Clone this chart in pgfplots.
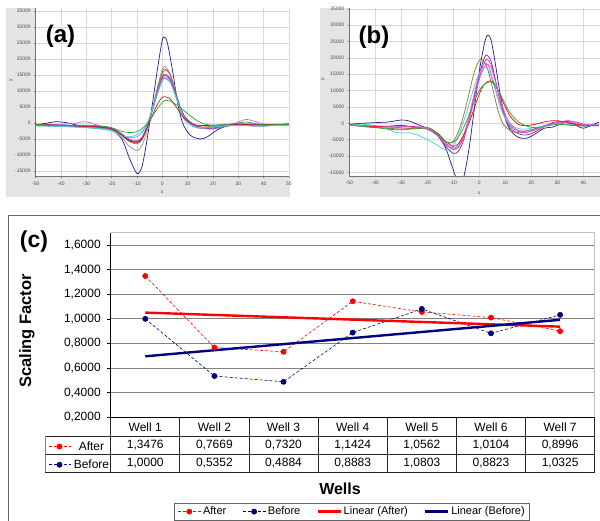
\documentclass[border=0pt]{standalone}
\usepackage{fontspec}
\setmainfont{Liberation Sans}
\usepackage{pgfplots}
\pgfplotsset{compat=1.18}

\definecolor{bgray}{RGB}{228,228,228}
\definecolor{cnavy}{RGB}{30,30,140}
\definecolor{cgray}{RGB}{150,150,150}
\definecolor{colive}{RGB}{140,120,40}
\definecolor{cbrown}{RGB}{180,110,60}
\definecolor{cmag}{RGB}{230,30,220}
\definecolor{cpurp}{RGB}{140,40,140}
\definecolor{cviol}{RGB}{190,110,230}
\definecolor{cpink}{RGB}{230,90,190}
\definecolor{clblue}{RGB}{100,160,230}
\definecolor{ccyan}{RGB}{60,210,220}
\definecolor{cdred}{RGB}{180,30,40}
\definecolor{cgreen}{RGB}{40,170,40}
\definecolor{xred}{RGB}{255,0,0}
\definecolor{xnavy}{RGB}{0,0,128}

\pgfplotsset{
  panelab/.style={scale only axis, anchor=south west,
    axis x line*=bottom, axis y line*=left,
    axis line style={black!55, line width=0.4pt, -},
    grid=major, major grid style={black!15, line width=0.4pt},
    xtick={-50,-40,...,50}, ytick={-15000,-10000,...,35000},
    tick label style={font=\fontsize{5}{5}\selectfont, text=black!70},
    /pgf/number format/set thousands separator={},
    /pgf/number format/assume math mode=true,
    scaled y ticks=false, tick align=outside, major tick length=1.5pt,
    tick style={black!55, line width=0.4pt},
    axis background/.style={fill=white}, clip=true,
    every axis plot/.append style={smooth, line width=0.7pt, mark=none}},
  lgimg/.style={legend image code/.code={\draw[mark repeat=2,mark phase=2,##1] plot coordinates {(0pt,0pt) (#1/2,0pt) (#1,0pt)};}}
}

\begin{document}
\begin{tikzpicture}[x=1pt,y=1pt]
\useasboundingbox (0,0) rectangle (600,521);
\clip (0,0) rectangle (600,521);

% grey frames of the two upper panels
\fill[bgray] (6,324) rectangle (290,513);
\fill[bgray] (320,324) rectangle (600,513);

% ---------- (a)
\begin{axis}[panelab, at={(35.7pt,344.3pt)}, width=253.3pt, height=168.7pt,
  xmin=-50, xmax=50, ymin=-16780, ymax=35940]
\addplot[cnavy] coordinates {(-50,-600) (-46,-100) (-42,400) (-38,100) (-34,-600) (-30,-1100) (-25,-1300) (-20,-2200) (-16,-5000) (-13,-11000) (-10,-15800) (-8,-13500) (-6,-5000) (-4,5500) (-2,16500) (0,26000) (1,26700) (2,25000) (4,16500) (6,6500) (8,0) (11,-3800) (15,-5000) (18,-4200) (22,-2000) (26,-900) (30,-500) (35,-900) (40,-800) (45,-500) (50,-400)};
\addplot[cgray] coordinates {(-50,-900) (-40,-1000) (-30,-1300) (-25,-1500) (-20,-2300) (-16,-4500) (-13,-7300) (-10,-8600) (-8,-7000) (-6,-2500) (-4,4000) (-2,11000) (0,16800) (1,17600) (3,15500) (5,10000) (7,4500) (9,1000) (12,-1000) (15,-1700) (20,-1600) (25,-900) (30,-600) (35,-800) (40,-900) (45,-700) (50,-500)};
\addplot[colive] coordinates {(-50,-500) (-40,-800) (-30,-1000) (-25,-1500) (-20,-2000) (-16,-4000) (-13,-5800) (-10,-6500) (-8,-5200) (-6,-1500) (-4,4000) (-2,10500) (0,16000) (1,16900) (3,15200) (5,10000) (7,5000) (9,1500) (12,-500) (15,-1300) (20,-1200) (25,-800) (30,-300) (35,-600) (40,-900) (45,-600) (50,-500)};
\addplot[cbrown] coordinates {(-50,-700) (-40,-600) (-30,-1400) (-25,-1800) (-20,-1800) (-16,-3500) (-13,-5500) (-10,-6200) (-8,-5000) (-6,-1300) (-4,4000) (-2,10000) (0,15500) (1.5,16400) (3,15300) (5,10500) (7,5200) (9,1800) (12,-300) (15,-1200) (20,-1000) (25,-600) (30,-400) (35,-800) (40,-700) (45,-500) (50,-600)};
\addplot[cmag] coordinates {(-50,-500) (-40,-700) (-30,-900) (-25,-1100) (-20,-1600) (-16,-3500) (-13,-5500) (-10,-6000) (-8,-4800) (-6,-1200) (-4,3800) (-2,9500) (0,14500) (1,15300) (3,14000) (5,9500) (7,4800) (9,1500) (12,-500) (15,-1400) (20,-1500) (25,-900) (30,-500) (35,-500) (40,-700) (45,-500) (50,-400)};
\addplot[cpurp] coordinates {(-50,-800) (-40,-900) (-30,-1200) (-25,-1200) (-20,-1700) (-16,-3600) (-13,-5300) (-10,-5700) (-8,-4500) (-6,-1000) (-4,3800) (-2,9300) (0,14200) (1,14900) (3,13800) (5,9500) (7,5000) (9,1800) (12,-300) (15,-1300) (20,-1800) (25,-1000) (30,-400) (35,-300) (40,-600) (45,-800) (50,-500)};
\addplot[cviol] coordinates {(-50,-400) (-40,-500) (-34,0) (-31,400) (-28,0) (-25,-800) (-20,-1500) (-16,-3300) (-13,-5000) (-10,-5500) (-8,-4300) (-6,-900) (-4,3700) (-2,9000) (0,13700) (1,14300) (3,13300) (5,9200) (7,4800) (9,1500) (12,-600) (15,-1600) (20,-1900) (25,-1000) (29,0) (33,1100) (37,400) (40,-300) (45,-700) (50,-400)};
\addplot[clblue] coordinates {(-50,-700) (-40,-1000) (-30,-1400) (-25,-1500) (-20,-2300) (-16,-3800) (-13,-4600) (-10,-4300) (-8,-3000) (-6,-200) (-4,4200) (-2,9300) (0,13500) (1,14000) (3,13000) (5,9000) (7,4500) (9,1000) (12,-900) (15,-1500) (20,-1300) (25,-800) (30,-700) (35,-900) (40,-1000) (45,-700) (50,-600)};
\addplot[ccyan] coordinates {(-50,-900) (-40,-1100) (-30,-1500) (-25,-1800) (-20,-2500) (-16,-3800) (-14,-4300) (-11,-4000) (-8,-2500) (-6,0) (-4,4000) (-2,9000) (0,13200) (1,13800) (3,12800) (5,8800) (7,4300) (9,800) (12,-1000) (15,-1500) (20,-1200) (25,-900) (30,-800) (35,-800) (40,-900) (45,-800) (50,-700)};
\addplot[cdred] coordinates {(-50,-400) (-40,-700) (-30,-1000) (-25,-1300) (-20,-1800) (-16,-3800) (-13,-5600) (-10,-6000) (-8,-4800) (-6,-1500) (-4,2200) (-2,5800) (0,8100) (1,8200) (3,7600) (5,5500) (7,3200) (9,1200) (12,-300) (15,-800) (20,-700) (25,-500) (30,-300) (35,-600) (40,-500) (45,-400) (50,-300)};
\addplot[cgreen] coordinates {(-50,-500) (-40,-800) (-30,-700) (-25,-900) (-20,-1500) (-16,-2600) (-12,-3000) (-9,-2300) (-6,-200) (-4,2000) (-2,4500) (0,6500) (1.5,7100) (3,6900) (5,6000) (8,4200) (11,2300) (14,600) (17,-400) (20,-700) (25,-500) (30,0) (33,300) (37,-200) (40,-600) (45,-500) (50,-400)};
\end{axis}

% ---------- (b)
\begin{axis}[panelab, at={(349.3pt,345pt)}, width=250.7pt, height=168pt,
  xmin=-50, xmax=46.4, ymin=-16116, ymax=35260]
\addplot[cnavy] coordinates {(-50,-300) (-45,0) (-40,200) (-35,400) (-30,1000) (-27,700) (-23,-600) (-20,-1600) (-16,-3800) (-13,-7500) (-11,-12000) (-9,-16500) (-7.5,-19000) (-6,-16500) (-4,-8000) (-2,4000) (0,16000) (2,24500) (3.2,27000) (4.5,25500) (6,19000) (8,9000) (10,1500) (12,-2200) (15,-4300) (18,-4600) (21,-3500) (25,-1500) (28,-1200) (31,-300) (34,600) (37,-600) (40,-1500) (43,-600) (46,300)};
\addplot[cpurp] coordinates {(-50,-500) (-45,-800) (-40,-1200) (-35,-1000) (-30,-600) (-25,-1300) (-20,-1800) (-16,-3800) (-13,-7000) (-10,-9200) (-8,-8500) (-6,-5000) (-4,1000) (-2,8000) (0,15000) (2,20200) (3,20800) (4.5,19000) (6,14000) (8,7000) (10,1500) (12,-1500) (15,-3200) (18,-3600) (21,-2800) (25,-1000) (28,200) (32,500) (36,-300) (40,-800) (46,-600)};
\addplot[cmag] coordinates {(-50,-600) (-45,-700) (-40,-1000) (-35,-1500) (-30,-1200) (-25,-1000) (-20,-1500) (-16,-3500) (-13,-6500) (-10,-8000) (-8,-7300) (-6,-4000) (-4,1000) (-2,7500) (0,14000) (2,18800) (3,19500) (4.5,18000) (6,13500) (8,7000) (10,2000) (12,-800) (15,-2500) (18,-2800) (22,-1800) (26,-500) (30,200) (34,800) (38,200) (42,-600) (46,-800)};
\addplot[cpink] coordinates {(-50,-700) (-40,-900) (-35,-1200) (-30,-1500) (-25,-1600) (-20,-1700) (-16,-3300) (-13,-6000) (-10,-7500) (-8,-6800) (-6,-3500) (-4,2000) (-2,9000) (0,15000) (2,18500) (3.5,17500) (5,14000) (7,8500) (9,3500) (11,0) (14,-2000) (18,-2300) (22,-1500) (26,-500) (30,0) (34,300) (38,-200) (42,-500) (46,-400)};
\addplot[colive] coordinates {(-50,-500) (-45,-1000) (-40,-1300) (-35,-1500) (-30,-1800) (-25,-1500) (-20,-1200) (-17,-2500) (-14,-5000) (-12,-6000) (-10,-5500) (-8,-2500) (-6,2500) (-4,9000) (-2,15500) (0,19300) (1,19500) (3,17000) (5,11000) (7,4500) (9,0) (12,-2300) (15,-2800) (20,-2000) (25,-800) (30,-200) (35,-500) (40,-800) (46,-600)};
\addplot[ccyan] coordinates {(-50,-500) (-45,-300) (-40,-700) (-36,-1500) (-33,-2600) (-30,-3000) (-27,-2900) (-24,-3500) (-20,-5000) (-16,-6800) (-13,-8200) (-11,-7800) (-9,-5500) (-7,-1500) (-5,3000) (-3,8500) (-1,13500) (1,16500) (2.5,17000) (4,15500) (6,10500) (8,5000) (10,1500) (13,-1000) (17,-1800) (22,-1200) (27,-600) (32,-200) (37,-500) (42,-700) (46,-500)};
\addplot[xred] coordinates {(-50,-500) (-45,-700) (-40,-1000) (-35,-900) (-30,-700) (-25,-1200) (-20,-1500) (-16,-3200) (-13,-5500) (-10,-7000) (-8,-6200) (-6,-3500) (-4,0) (-2,4500) (0,9000) (2,12000) (4.3,13000) (6,11800) (8,8500) (10,5000) (12,2000) (15,-300) (18,-700) (22,-200) (26,600) (30,800) (34,200) (38,-400) (42,-600) (46,-700)};
\addplot[cgreen] coordinates {(-50,-400) (-45,-900) (-40,-1300) (-35,-1800) (-30,-2000) (-25,-1700) (-20,-1500) (-16,-3000) (-13,-5500) (-11,-6000) (-9,-5200) (-7,-2800) (-5,500) (-3,4500) (-1,8500) (1,11200) (3,12400) (4.5,12600) (6,11700) (8,9000) (10,5800) (12,3000) (15,500) (18,-800) (22,-1400) (26,-800) (30,-300) (35,-600) (40,-800) (46,-700)};
\addplot[cviol] coordinates {(-50,-600) (-40,-800) (-30,-1000) (-25,-1200) (-20,-1500) (-16,-3600) (-13,-6300) (-10,-7800) (-8,-7200) (-6,-4500) (-4,500) (-2,7000) (0,13500) (2,17300) (3.5,18000) (5,16000) (7,10500) (9,5000) (11,1000) (14,-1800) (17,-2800) (21,-2200) (25,-900) (30,0) (35,500) (40,-300) (46,-500)};
\end{axis}

\node[font=\fontsize{5}{5}\selectfont, text=black!70] at (162,329) {x};
\node[font=\fontsize{5}{5}\selectfont, text=black!70, rotate=90] at (11,441) {y};
\node[font=\fontsize{5}{5}\selectfont, text=black!70] at (479,328) {x};
\node[font=\fontsize{5}{5}\selectfont, text=black!70, rotate=90] at (323,442) {y};
\node[font=\fontsize{24}{24}\selectfont\bfseries] at (60.5,485) {(a)};
\node[font=\fontsize{24}{24}\selectfont\bfseries] at (374,484) {(b)};

% ---------- (c)
\draw[black!60, line width=0.8pt] (8.3,0) -- (8.3,305.3) -- (600,305.3);

\begin{axis}[at={(110.7pt,103.7pt)}, anchor=south west, scale only axis,
  width=484pt, height=184.6pt,
  xmin=0.5, xmax=7.5, ymin=0.2, ymax=1.7,
  xtick=\empty, ytick={0.2,0.4,0.6,0.8,1.0,1.2,1.4,1.6}, ytick pos=left,
  axis line style={draw=none},
  ymajorgrids, major grid style={black!50, line width=0.8pt},
  tick style={black, line width=0.6pt}, tick align=outside, major tick length=3.4pt,
  yticklabel style={font=\fontsize{12}{12}\selectfont, xshift=-3pt,
    /pgf/number format/fixed, /pgf/number format/fixed zerofill,
    /pgf/number format/precision=4, /pgf/number format/use comma,
    /pgf/number format/assume math mode=true},
  lgimg=23pt,
  legend columns=4,
  legend style={at={(0.1314,-0.4626)}, anchor=north west, draw=black!60,
    font=\fontsize{11}{11}\selectfont,
    /tikz/every even column/.append style={column sep=14pt}},
  clip=false]
\addplot[xred, dash pattern=on 3pt off 2pt, line width=0.6pt, mark=*, mark size=2.6pt, mark options={solid}]
  coordinates {(1,1.3476) (2,0.7669) (3,0.7320) (4,1.1424) (5,1.0562) (6,1.0104) (7,0.8996)};
\addlegendentry{After}
\addplot[xnavy, dash pattern=on 3pt off 2pt, line width=0.6pt, mark=*, mark size=2.6pt, mark options={solid}]
  coordinates {(1,1.0000) (2,0.5352) (3,0.4884) (4,0.8883) (5,1.0803) (6,0.8823) (7,1.0325)};
\addlegendentry{Before}
\addplot[xred, line width=2.4pt] coordinates {(1,1.0507) (7,0.9365)};
\addlegendentry{Linear (After)}
\addplot[xnavy, line width=2.4pt] coordinates {(1,0.6956) (7,0.9921)};
\addlegendentry{Linear (Before)}
\end{axis}

% frame of the plot area
\draw[black!25, line width=0.8pt] (110.7,288.3) -- (594.7,288.3) -- (594.7,103.7);
\draw[black, line width=0.8pt] (110.7,288.3) -- (110.7,103.7) -- (594.7,103.7);

% data table
\draw[black!85, line width=0.8pt] (45,84.7) -- (594.7,84.7) (45,66.7) -- (594.7,66.7) (45,49) -- (594.7,49);
\draw[black!50, line width=0.8pt] (45,49) -- (45,84.7);
\foreach \i in {0,...,7} \draw[black!85, line width=0.8pt] (110.7+69.14*\i,49) -- (110.7+69.14*\i,103.7);
\foreach \w [count=\i] in {Well 1,Well 2,Well 3,Well 4,Well 5,Well 6,Well 7}
  \node[font=\fontsize{12}{12}\selectfont] at (76.13+69.14*\i,94.2) {\w};
\foreach \a [count=\i] in {{1,3476},{0,7669},{0,7320},{1,1424},{1,0562},{1,0104},{0,8996}}
  \node[font=\fontsize{12}{12}\selectfont] at (76.13+69.14*\i,75.7) {\a};
\foreach \b [count=\i] in {{1,0000},{0,5352},{0,4884},{0,8883},{1,0803},{0,8823},{1,0325}}
  \node[font=\fontsize{12}{12}\selectfont] at (76.13+69.14*\i,57.8) {\b};

% legend keys of the table rows
\begin{axis}[at={(0pt,0pt)}, anchor=south west, scale only axis, width=600pt, height=521pt,
  hide axis, xmin=0, xmax=1, ymin=0, ymax=1, lgimg=22pt,
  legend style={at={(0.08,0.1568)}, anchor=north west, draw=none, fill=none, inner sep=0pt,
    row sep=4pt, font=\fontsize{12}{12}\selectfont,
    /tikz/every odd column/.append style={column sep=1pt}}]
\addlegendimage{xred, dash pattern=on 3pt off 2pt, line width=0.6pt, mark=*, mark size=2.6pt, mark options={solid}}
\addlegendentry{After}
\addlegendimage{xnavy, dash pattern=on 3pt off 2pt, line width=0.6pt, mark=*, mark size=2.6pt, mark options={solid}}
\addlegendentry{Before}
\end{axis}

\node[font=\fontsize{16}{16}\selectfont\bfseries] at (340,32.7) {Wells};
\node[font=\fontsize{16.5}{16.5}\selectfont\bfseries, rotate=90] at (27,190) {Scaling Factor};
\node[font=\fontsize{23}{23}\selectfont\bfseries] at (34,279.5) {(c)};
\end{tikzpicture}
\end{document}
